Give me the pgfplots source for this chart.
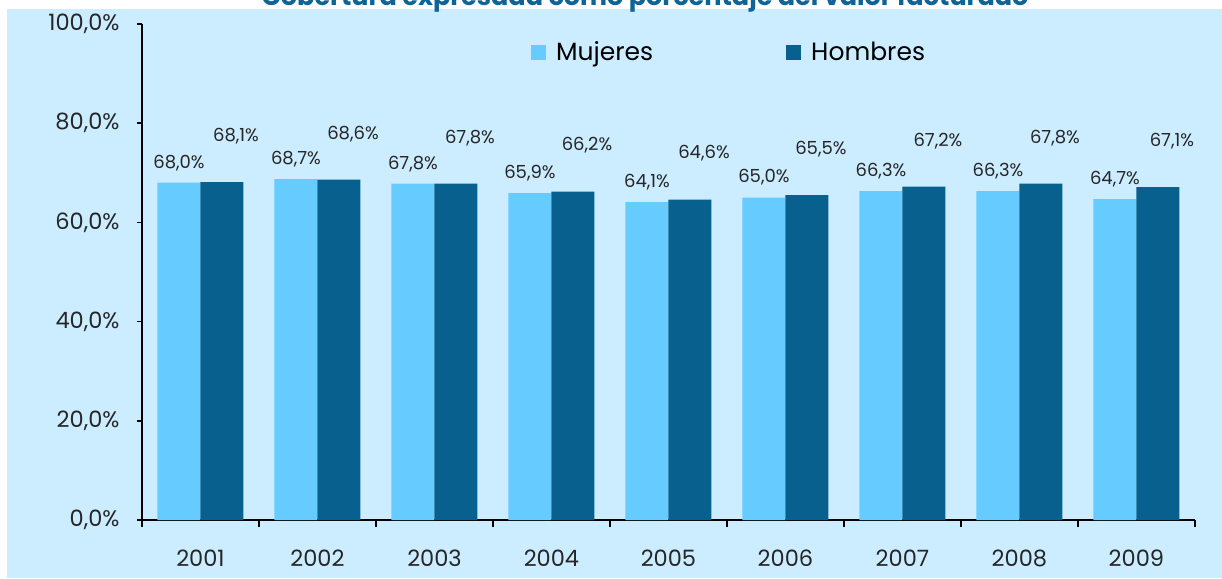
\documentclass[border=0pt]{standalone}
\usepackage{fontspec}
\setmainfont{Poppins}
\usepackage{pgfplots}
\pgfplotsset{compat=1.18}
\definecolor{bg}{RGB}{204,236,255}
\definecolor{muj}{RGB}{102,204,255}
\definecolor{hom}{RGB}{8,96,143}
\definecolor{tit}{RGB}{14,100,151}
\begin{document}
\begin{tikzpicture}
\fill[white] (-142pt,-58pt) rectangle (1080pt,520pt);
\fill[bg] (-135pt,-58pt) rectangle (1080pt,511pt);
\useasboundingbox (-142pt,-58pt) rectangle (1080pt,520pt);
\node[anchor=base, font=\fontsize{25.5}{30}\selectfont\bfseries, text=tit] at (503pt,514pt) {Cobertura expresada como porcentaje del valor facturado};
\begin{axis}[
  scale only axis, width=1053pt, height=496pt,
  at={(0pt,0pt)}, anchor=south west,
  xmin=0.5, xmax=9.5, ymin=0, ymax=100,
  axis x line=bottom, axis y line=left,
  axis line style={-, line width=1.5pt, black},
  ybar=0pt, bar width=43pt,
  xtick={1,...,9},
  xticklabels={2001,2002,2003,2004,2005,2006,2007,2008,2009},
  minor xtick={0.5,1.5,...,9.5},
  major x tick style={draw=none},
  minor tick length=7pt,
  major tick length=5pt,
  tick align=outside,
  tick style={black, line width=1.5pt},
  ytick={0,20,...,100},
  /pgf/number format/.cd, fixed, fixed zerofill, precision=1, use comma, assume math mode=true,
  /pgfplots/.cd,
  yticklabel={\pgfmathprintnumber{\tick}\%},
  ticklabel style={font=\fontsize{22.5}{27}\selectfont, text=black!85},
  xticklabel style={anchor=center, yshift=-33pt},
  yticklabel style={xshift=-14pt},
  legend style={at={(0.3694,0.9435)}, anchor=west, draw=none, fill=none,
    font=\fontsize{25}{30}\selectfont, inner sep=0pt,
    /tikz/every even column/.append style={column sep=131pt}},
  legend columns=2,
  legend cell align=left,
  nodes near coords={\pgfmathprintnumber{\pgfplotspointmeta}\%},
  clip=false,
]
\addplot[fill=muj, draw=none,
  nodes near coords style={anchor=center, yshift=20pt, font=\fontsize{18}{22}\selectfont, text=black!85},
  legend image code/.code={\fill[muj] (0pt,-7.5pt) rectangle (15pt,7.5pt);\path (23pt,0pt);}]
  coordinates {(1,68.0) (2,68.7) (3,67.8) (4,65.9) (5,64.1) (6,65.0) (7,66.3) (8,66.3) (9,64.7)};
\addlegendentry{Mujeres}
\addplot[fill=hom, draw=none,
  nodes near coords style={anchor=center, yshift=46pt, xshift=14pt, font=\fontsize{18}{22}\selectfont, text=black!85},
  legend image code/.code={\fill[hom] (0pt,-7.5pt) rectangle (15pt,7.5pt);\path (23pt,0pt);}]
  coordinates {(1,68.1) (2,68.6) (3,67.8) (4,66.2) (5,64.6) (6,65.5) (7,67.2) (8,67.8) (9,67.1)};
\addlegendentry{Hombres}
\end{axis}
\end{tikzpicture}
\end{document}
